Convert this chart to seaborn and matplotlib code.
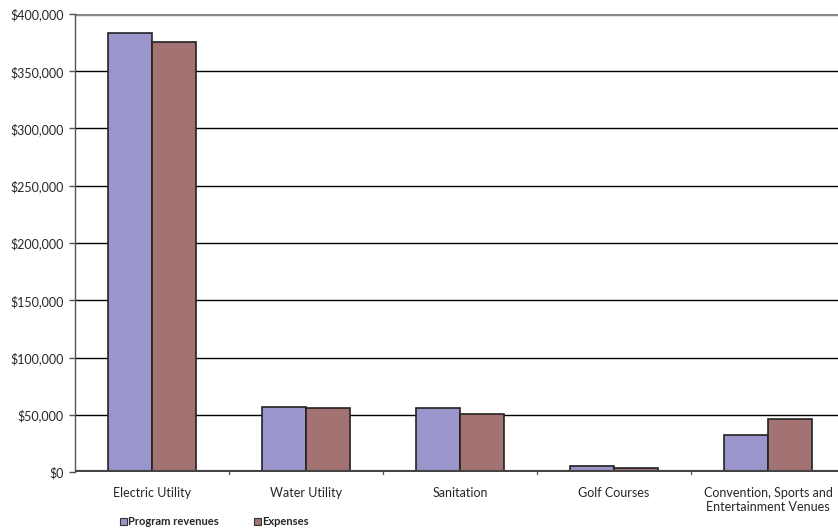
import matplotlib
matplotlib.use("Agg")
import matplotlib.pyplot as plt
import seaborn as sns
import pandas as pd
from matplotlib.ticker import FuncFormatter
from matplotlib.patches import Patch

categories = ["Electric Utility", "Water Utility", "Sanitation", "Golf Courses",
              "Convention, Sports and\nEntertainment Venues"]
program_revenues = [383000, 57000, 56000, 5000, 32500]
expenses = [375500, 55500, 50500, 3800, 46500]
series_names = ["Program revenues", "Expenses"]
yticks = [0, 50000, 100000, 150000, 200000, 250000, 300000, 350000, 400000]

df = pd.DataFrame({
    "category": categories * 2,
    "series": [series_names[0]] * len(categories) + [series_names[1]] * len(categories),
    "value": program_revenues + expenses,
})

sns.set_style("white")
plt.rcParams['font.family'] = ['Lato', 'DejaVu Sans']
colors = ["#9A96CB", "#A37373"]

fig = plt.figure(figsize=(8.38, 5.32), dpi=100)
ax = fig.add_axes([75/838, 60/532, 770/838, 458/532])

sns.barplot(data=df, x="category", y="value", hue="series", palette=colors,
            width=0.575, edgecolor="#222222", linewidth=1.2, ax=ax,
            legend=False, zorder=3, saturation=1)

ax.set_ylim(0, 400000)
ax.set_xlim(-0.5, 4.5)
ax.set_yticks(yticks)
ax.yaxis.set_major_formatter(FuncFormatter(lambda v, p: f"${int(v):,}"))
for y in yticks[1:-1]:
    ax.axhline(y, color="black", lw=1.0, zorder=1)
ax.axhline(400000, color="#888888", lw=2.5, zorder=1)
ax.axhline(0, color="#444444", lw=3, zorder=4)

for s in ["top", "right", "bottom"]:
    ax.spines[s].set_visible(False)
ax.spines["left"].set_color("#555555")
ax.spines["left"].set_linewidth(1)
ax.tick_params(axis="y", length=4, width=1, color="#555555", labelsize=9.0, pad=4, left=True)
ax.tick_params(axis="x", length=0, labelsize=9.0, pad=11)
for b in [0.5, 1.5, 2.5, 3.5]:
    ax.plot([b, b], [0, -1500], color="#555555", lw=1, clip_on=False, zorder=5)
ax.set_xlabel("")
ax.set_ylabel("")

handles = [Patch(facecolor=c, edgecolor="#333333", linewidth=0.8) for c in colors]
fig.legend(handles, series_names, loc="lower left", bbox_to_anchor=(110/838, -5/532),
           ncol=2, frameon=False, handlelength=0.6, handleheight=0.6, handletextpad=0.1,
           columnspacing=3.2, prop={"size": 8.0, "weight": "bold"})

fig.savefig("out.png", dpi=100)
